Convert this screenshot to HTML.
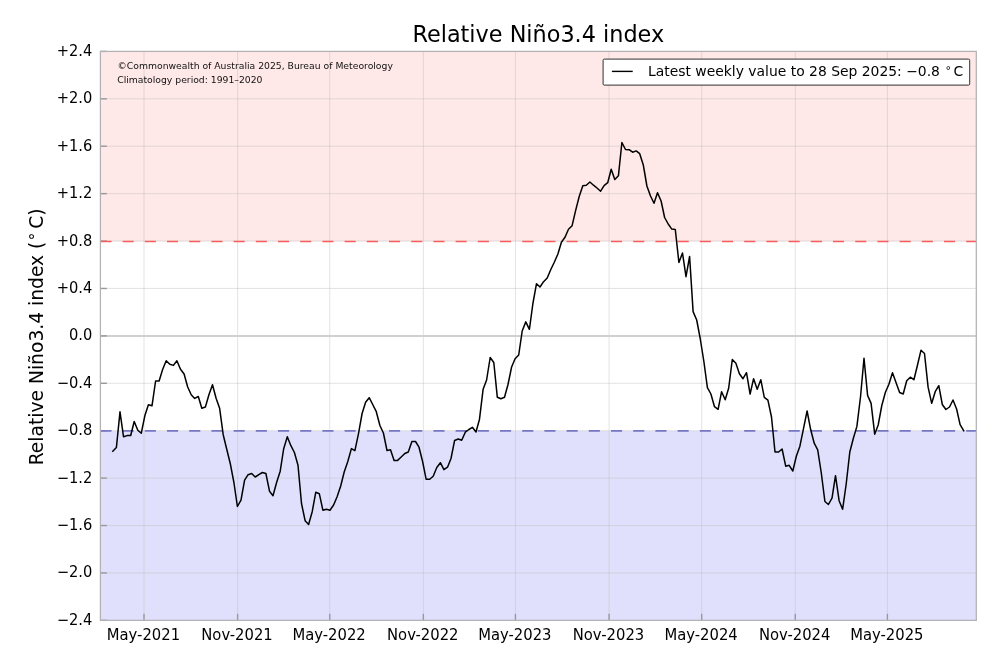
<!DOCTYPE html>
<html lang="en"><head><meta charset="utf-8"><title>Relative Niño3.4 index</title>
<style>
html,body{margin:0;padding:0;background:#fff;}
body{width:1000px;height:667px;overflow:hidden;}
svg{display:block;font-family:"DejaVu Sans","Liberation Sans",sans-serif;fill:#000;}
</style></head><body>
<svg width="1000" height="667" viewBox="0 0 1000 667">
<rect width="1000" height="667" fill="#fff"/>
<rect x="100.4" y="51.4" width="875.90" height="190.00" fill="#fee8e8"/>
<rect x="100.4" y="430.85" width="875.90" height="189.50" fill="#e0e0fc"/>
<g stroke="#bcbcbc" stroke-opacity="0.42" stroke-width="1.0" fill="none">
<line x1="144.00" y1="51.4" x2="144.00" y2="620.35"/>
<line x1="237.62" y1="51.4" x2="237.62" y2="620.35"/>
<line x1="329.72" y1="51.4" x2="329.72" y2="620.35"/>
<line x1="423.35" y1="51.4" x2="423.35" y2="620.35"/>
<line x1="515.45" y1="51.4" x2="515.45" y2="620.35"/>
<line x1="609.07" y1="51.4" x2="609.07" y2="620.35"/>
<line x1="701.68" y1="51.4" x2="701.68" y2="620.35"/>
<line x1="795.30" y1="51.4" x2="795.30" y2="620.35"/>
<line x1="887.40" y1="51.4" x2="887.40" y2="620.35"/>
<line x1="100.4" y1="98.81" x2="976.3" y2="98.81"/>
<line x1="100.4" y1="146.22" x2="976.3" y2="146.22"/>
<line x1="100.4" y1="193.64" x2="976.3" y2="193.64"/>
<line x1="100.4" y1="241.05" x2="976.3" y2="241.05"/>
<line x1="100.4" y1="288.46" x2="976.3" y2="288.46"/>
<line x1="100.4" y1="383.29" x2="976.3" y2="383.29"/>
<line x1="100.4" y1="430.70" x2="976.3" y2="430.70"/>
<line x1="100.4" y1="478.11" x2="976.3" y2="478.11"/>
<line x1="100.4" y1="525.53" x2="976.3" y2="525.53"/>
<line x1="100.4" y1="572.94" x2="976.3" y2="572.94"/>
</g>
<line x1="100.4" y1="336" x2="976.3" y2="336" stroke="#d0d0d0" stroke-width="2"/>
<g stroke="#999" stroke-width="1.4">
<line x1="144.00" y1="620.35" x2="144.00" y2="613.85"/>
<line x1="237.62" y1="620.35" x2="237.62" y2="613.85"/>
<line x1="329.72" y1="620.35" x2="329.72" y2="613.85"/>
<line x1="423.35" y1="620.35" x2="423.35" y2="613.85"/>
<line x1="515.45" y1="620.35" x2="515.45" y2="613.85"/>
<line x1="609.07" y1="620.35" x2="609.07" y2="613.85"/>
<line x1="701.68" y1="620.35" x2="701.68" y2="613.85"/>
<line x1="795.30" y1="620.35" x2="795.30" y2="613.85"/>
<line x1="887.40" y1="620.35" x2="887.40" y2="613.85"/>
<line x1="100.4" y1="51.40" x2="106.9" y2="51.40"/>
<line x1="100.4" y1="98.81" x2="106.9" y2="98.81"/>
<line x1="100.4" y1="146.22" x2="106.9" y2="146.22"/>
<line x1="100.4" y1="193.64" x2="106.9" y2="193.64"/>
<line x1="100.4" y1="241.05" x2="106.9" y2="241.05"/>
<line x1="100.4" y1="288.46" x2="106.9" y2="288.46"/>
<line x1="100.4" y1="335.88" x2="106.9" y2="335.88"/>
<line x1="100.4" y1="383.29" x2="106.9" y2="383.29"/>
<line x1="100.4" y1="430.70" x2="106.9" y2="430.70"/>
<line x1="100.4" y1="478.11" x2="106.9" y2="478.11"/>
<line x1="100.4" y1="525.53" x2="106.9" y2="525.53"/>
<line x1="100.4" y1="572.94" x2="106.9" y2="572.94"/>
<line x1="100.4" y1="620.35" x2="106.9" y2="620.35"/>
</g>
<line x1="100.4" y1="241.4" x2="976.3" y2="241.4" stroke="#f95c5c" stroke-width="1.45" stroke-dasharray="11.1 11.1"/>
<line x1="100.4" y1="430.85" x2="976.3" y2="430.85" stroke="#7676c2" stroke-width="1.75" stroke-dasharray="11.1 11.1"/>
<polyline points="112.8,451.3 116.4,447.5 120.0,411.8 123.5,436.7 127.1,435.6 130.7,435.5 134.2,421.5 137.8,430.2 141.3,433.2 144.9,415.5 148.4,404.7 152.0,405.8 155.6,381.0 159.1,381.0 162.7,369.2 166.2,360.8 169.8,364.2 173.4,365.4 176.9,360.8 180.5,369.2 184.1,374.0 187.6,386.7 191.2,394.7 194.7,398.4 198.3,396.5 201.8,408.2 205.4,407.0 209.0,394.5 212.5,384.8 216.1,398.3 219.6,408.2 223.2,434.7 226.8,449.5 230.3,463.7 233.9,482.5 237.4,506.5 241.0,500.2 244.6,480.2 248.1,474.7 251.7,473.5 255.2,477.0 258.8,474.7 262.4,472.5 265.9,473.5 269.5,491.2 273.0,495.7 276.6,482.5 280.2,471.2 283.7,448.7 287.3,436.7 290.9,445.7 294.4,452.5 298.0,465.2 301.5,503.5 305.1,520.7 308.6,524.5 312.2,511.7 315.8,492.2 319.3,493.7 322.9,510.2 326.4,509.2 330.0,510.2 333.6,505.0 337.1,496.7 340.7,486.0 344.2,472.0 347.8,461.5 351.4,448.6 354.9,450.7 358.5,433.7 362.1,413.5 365.6,402.2 369.2,397.7 372.7,404.5 376.3,411.7 379.9,425.5 383.4,433.0 387.0,450.5 390.5,449.8 394.1,460.4 397.6,460.4 401.2,457.0 404.8,453.5 408.3,452.0 411.9,441.5 415.5,441.5 419.0,447.2 422.6,461.5 426.1,479.2 429.7,479.2 433.2,476.2 436.8,467.5 440.4,462.7 443.9,469.7 447.5,467.2 451.0,458.5 454.6,440.5 458.2,439.0 461.7,440.2 465.3,432.2 468.9,429.5 472.4,427.3 476.0,432.0 479.5,419.2 483.1,389.3 486.6,380.0 490.2,357.5 493.8,362.5 497.3,397.2 500.9,398.7 504.5,397.2 508.0,384.5 511.6,367.0 515.1,358.7 518.7,355.0 522.2,331.0 525.8,321.9 529.4,329.3 532.9,303.5 536.5,283.7 540.0,287.0 543.6,281.7 547.2,278.0 550.7,269.7 554.3,262.2 557.9,254.0 561.4,242.3 565.0,237.2 568.5,229.3 572.1,225.7 575.6,210.7 579.2,196.5 582.8,185.7 586.3,185.2 589.9,182.0 593.5,185.2 597.0,188.0 600.6,191.2 604.1,185.7 607.7,182.7 611.2,169.2 614.8,179.5 618.4,175.8 621.9,142.5 625.5,149.5 629.1,149.7 632.6,152.2 636.2,150.9 639.7,153.7 643.3,165.0 646.9,186.0 650.4,195.7 654.0,203.2 657.5,192.7 661.1,201.0 664.6,217.5 668.2,224.0 671.8,229.1 675.3,229.5 678.9,262.5 682.5,253.0 686.0,276.7 689.6,256.5 693.1,311.6 696.7,320.0 700.2,338.5 703.8,361.0 707.4,387.7 710.9,394.0 714.5,406.7 718.1,409.3 721.6,391.7 725.2,399.7 728.7,388.0 732.3,359.5 735.9,363.2 739.4,373.7 743.0,378.7 746.5,372.7 750.1,394.0 753.6,378.7 757.2,389.2 760.8,379.7 764.3,397.3 767.9,400.1 771.5,417.0 775.0,452.0 778.6,452.0 782.1,449.0 785.7,466.2 789.2,465.3 792.8,471.0 796.4,456.0 799.9,446.2 803.5,428.7 807.1,411.0 810.6,429.3 814.2,443.2 817.7,449.8 821.3,473.0 824.9,501.5 828.4,504.5 832.0,498.2 835.5,475.7 839.1,500.7 842.6,509.3 846.2,484.0 849.8,452.0 853.3,438.5 856.9,426.4 860.5,397.0 864.0,358.3 867.6,395.4 871.1,403.4 874.7,434.2 878.2,425.0 881.8,405.5 885.4,392.3 888.9,384.2 892.5,372.7 896.1,382.7 899.6,392.5 903.2,394.0 906.7,380.8 910.3,377.2 913.9,379.7 917.4,365.5 921.0,350.2 924.5,353.5 928.1,387.2 931.7,403.3 935.2,391.7 938.8,385.7 942.3,404.5 945.9,409.5 949.5,407.0 953.0,400.0 956.6,409.0 960.1,424.7 963.7,430.7" fill="none" stroke="#000" stroke-width="1.5" stroke-linejoin="round" stroke-linecap="square"/>
<rect x="100.4" y="51.4" width="875.90" height="568.95" fill="none" stroke="#b2b2b6" stroke-width="1.25"/>
<g font-size="14.8px" text-anchor="middle">
<text transform="translate(143.40,639.7) scale(1,1.125)">May-2021</text>
<text transform="translate(237.02,639.7) scale(1,1.125)">Nov-2021</text>
<text transform="translate(329.12,639.7) scale(1,1.125)">May-2022</text>
<text transform="translate(422.75,639.7) scale(1,1.125)">Nov-2022</text>
<text transform="translate(514.85,639.7) scale(1,1.125)">May-2023</text>
<text transform="translate(608.47,639.7) scale(1,1.125)">Nov-2023</text>
<text transform="translate(701.08,639.7) scale(1,1.125)">May-2024</text>
<text transform="translate(794.70,639.7) scale(1,1.125)">Nov-2024</text>
<text transform="translate(886.80,639.7) scale(1,1.125)">May-2025</text>
</g>
<g font-size="14.65px" text-anchor="end">
<text transform="translate(92.3,55.85) scale(1,1.06)">+2.4</text>
<text transform="translate(92.3,103.26) scale(1,1.06)">+2.0</text>
<text transform="translate(92.3,150.67) scale(1,1.06)">+1.6</text>
<text transform="translate(92.3,198.09) scale(1,1.06)">+1.2</text>
<text transform="translate(92.3,245.50) scale(1,1.06)">+0.8</text>
<text transform="translate(92.3,292.91) scale(1,1.06)">+0.4</text>
<text transform="translate(92.3,340.32) scale(1,1.06)">0.0</text>
<text transform="translate(92.3,387.74) scale(1,1.06)">−0.4</text>
<text transform="translate(92.3,435.15) scale(1,1.06)">−0.8</text>
<text transform="translate(92.3,482.56) scale(1,1.06)">−1.2</text>
<text transform="translate(92.3,529.98) scale(1,1.06)">−1.6</text>
<text transform="translate(92.3,577.39) scale(1,1.06)">−2.0</text>
<text transform="translate(92.3,624.80) scale(1,1.06)">−2.4</text>
</g>
<text x="538.3" y="41.5" font-size="22.35px" text-anchor="middle">Relative Niño3.4 index</text>
<text transform="translate(43,336.9) rotate(-90)" font-size="18.7px" text-anchor="middle">Relative Niño3.4 index (<tspan font-size="15px" dy="-2.2" dx="1.4">°</tspan><tspan dy="2.2" dx="3.9">C)</tspan></text>
<g font-size="9.25px" fill="#111">
<text x="117.6" y="68.8">©Commonwealth of Australia 2025, Bureau of Meteorology</text>
<text x="117.2" y="82.6">Climatology period: 1991–2020</text>
</g>
<rect x="603.1" y="59.1" width="366.6" height="26" rx="1.2" fill="#fff" stroke="#262626" stroke-width="0.95"/>
<line x1="611.9" y1="71.4" x2="632.7" y2="71.4" stroke="#000" stroke-width="1.4"/>
<text x="648" y="75.8" font-size="13.9px">Latest weekly value to 28 Sep 2025: −0.8<tspan font-size="11px" dy="-1.45" dx="5.55">°</tspan><tspan dy="1.45" dx="2.45">C</tspan></text>
</svg>
</body></html>
